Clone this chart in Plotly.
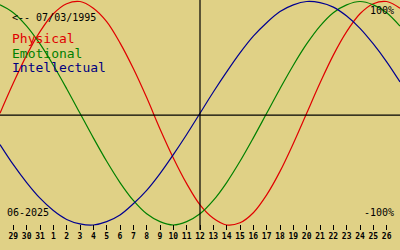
import plotly.graph_objects as go

# day index -1 .. 29 (today = index 14 = 12 June 2025)
day_index = list(range(-1, 30))
tick_index = list(range(0, 29))
tick_labels = ["29", "30", "31"] + [str(d) for d in range(1, 27)]

physical = [0.00, 0.27, 0.52, 0.73, 0.89, 0.98, 1.00, 0.94, 0.82, 0.63, 0.40,
            0.14, -0.14, -0.40, -0.63, -0.82, -0.94, -1.00, -0.98, -0.89, -0.73,
            -0.52, -0.27, 0.00, 0.27, 0.52, 0.73, 0.89, 0.98, 1.00, 0.94]
emotional = [0.97, 0.90, 0.78, 0.62, 0.43, 0.22, 0.00, -0.22, -0.43, -0.62, -0.78,
             -0.90, -0.97, -1.00, -0.97, -0.90, -0.78, -0.62, -0.43, -0.22, 0.00,
             0.22, 0.43, 0.62, 0.78, 0.90, 0.97, 1.00, 0.97, 0.90, 0.78]
intellectual = [-0.28, -0.46, -0.62, -0.76, -0.87, -0.95, -0.99, -1.00, -0.97, -0.91, -0.81,
                -0.69, -0.54, -0.37, -0.19, 0.00, 0.19, 0.37, 0.54, 0.69, 0.81,
                0.91, 0.97, 1.00, 0.99, 0.95, 0.87, 0.76, 0.62, 0.46, 0.28]

today_index = 14
birth_label = "<-- 07/03/1995"
month_label = "06-2025"

BG = "#e0d186"
RED = "#e00000"
GREEN = "#008000"
BLUE = "#000090"
MONO = "DejaVu Sans Mono"

W, H, B = 400, 250, 20
PH = H - B

fig = go.Figure()
for vals, col in [(physical, RED), (emotional, GREEN), (intellectual, BLUE)]:
    fig.add_trace(go.Scatter(x=day_index, y=vals, mode="lines",
                             line=dict(color=col, width=1.2, shape="spline", smoothing=1),
                             hoverinfo="skip", showlegend=False))

def py(p):
    return (PH - p) / PH

fig.add_shape(type="line", xref="paper", yref="y", x0=0, x1=1, y0=-0.016, y1=-0.016,
              line=dict(color="black", width=1.2))
fig.add_shape(type="line", xref="x", yref="paper", x0=today_index, x1=today_index, y0=0, y1=1,
              line=dict(color="black", width=1.2))

def ann(text, x, y, color, size, anchor="left"):
    fig.add_annotation(text=text, x=x / W, y=py(y), xref="paper", yref="paper",
                       xanchor=anchor, yanchor="middle", showarrow=False,
                       font=dict(family=MONO, size=size, color=color))

ann(birth_label, 10, 17, "black", 10)
ann("Physical", 10, 38, RED, 13)
ann("Emotional", 10, 53, GREEN, 13)
ann("Intellectual", 10, 68, "#000080", 13)
ann("100%", 396, 11, "black", 10, "right")
ann("-100%", 396, 212, "black", 10, "right")
ann(month_label, 5, 212, "black", 10)

fig.update_layout(
    width=W, height=H, margin=dict(l=0, r=0, t=0, b=B),
    paper_bgcolor=BG, plot_bgcolor=BG,
    xaxis=dict(range=[-1, 29], tickvals=tick_index, ticktext=tick_labels,
               ticks="inside", ticklen=5, tickwidth=1, tickcolor="black",
               showgrid=False, zeroline=False, showline=False,
               tickfont=dict(family=MONO, size=8, color="black", weight="bold")),
    yaxis=dict(range=[-1.0447, 1.0134], visible=False, showgrid=False, zeroline=False),
)

fig.write_html("out.html")
